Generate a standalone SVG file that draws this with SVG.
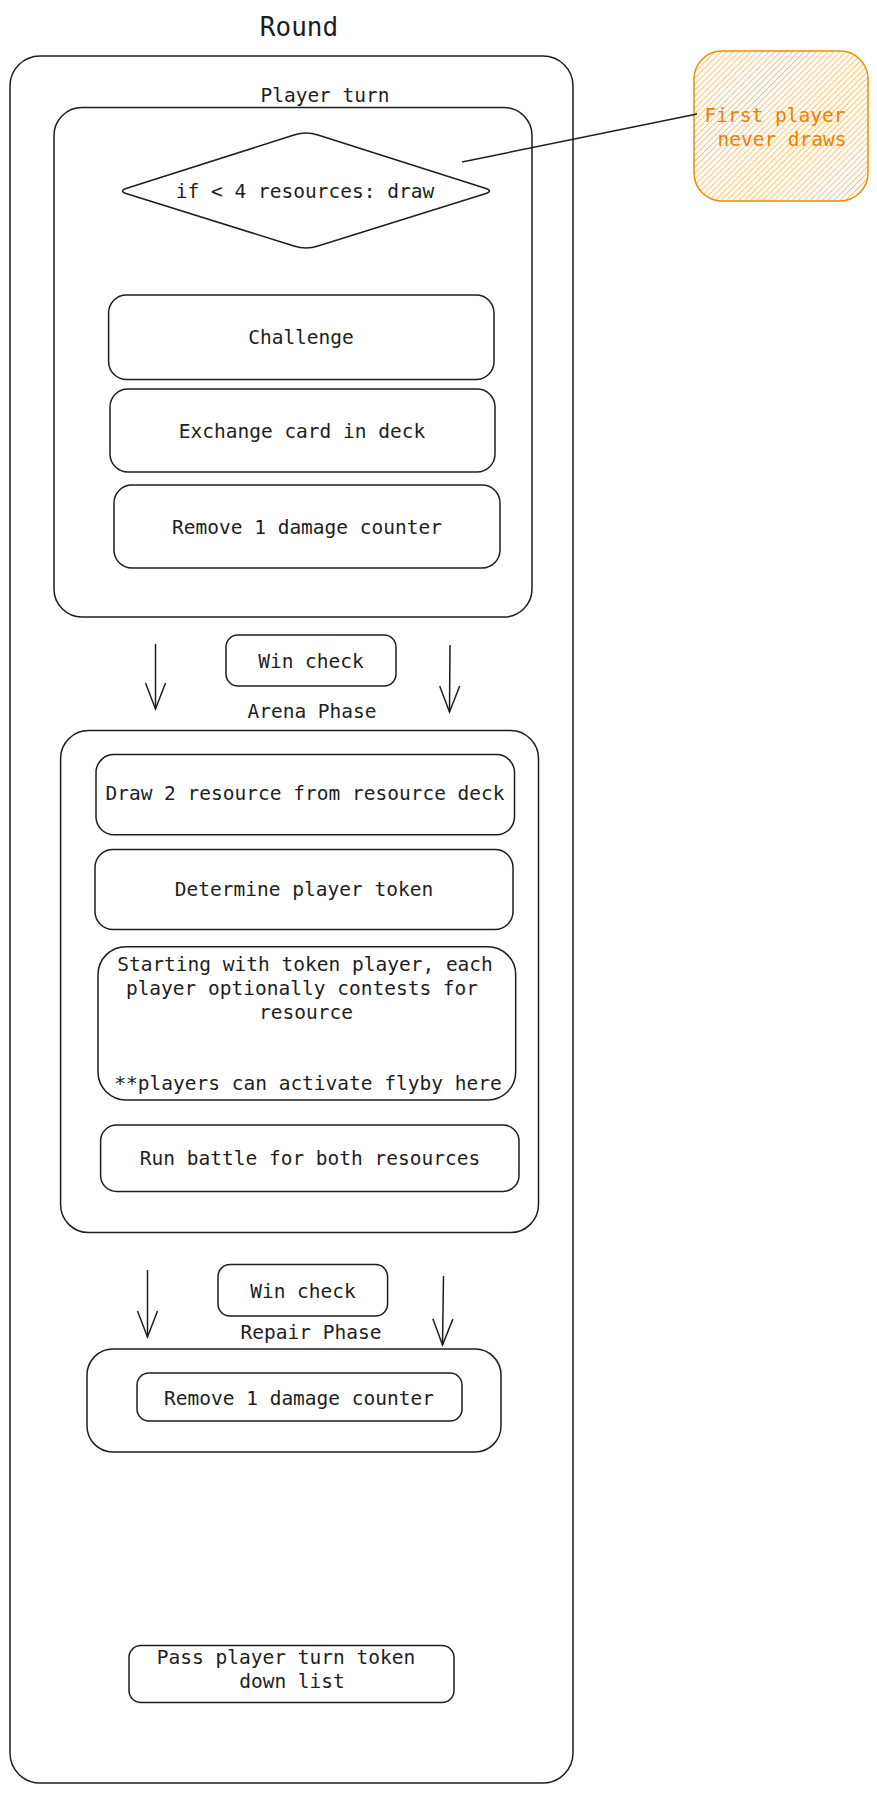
<svg xmlns="http://www.w3.org/2000/svg" width="877" height="1793" viewBox="0 0 877 1793">
<style>
.box{fill:none;stroke:#1e1e1e;stroke-width:1.5}
.t{font-family:"DejaVu Sans Mono","Liberation Mono",monospace;font-size:19.5px;fill:#1e1e1e;text-anchor:middle;dominant-baseline:central}
.edge{fill:none;stroke:#1e1e1e;stroke-width:1.5}
.note{fill:#ec8000}
</style>
<defs>
<pattern id="hatch" width="4.2" height="4.2" patternUnits="userSpaceOnUse" patternTransform="rotate(45)">
<line x1="0" y1="0" x2="0" y2="4.2" stroke="#ffc069" stroke-width="2"/>
</pattern>
<marker id="open" markerUnits="userSpaceOnUse" markerWidth="30" markerHeight="30" refX="0" refY="0" orient="auto" overflow="visible">
<path d="M-26,-10 L0,0 L-26,10" fill="none" stroke="#1e1e1e" stroke-width="1.5"/>
</marker>
</defs>
<rect width="877" height="1793" fill="#ffffff"/>

<g id="round">
<rect class="box" x="10" y="56" width="563" height="1727" rx="30"/>
<text class="t" x="299" y="27" style="font-size:26px">Round</text>
</g>

<g id="player-turn">
<rect class="box" x="54" y="107.5" width="478" height="509.5" rx="28"/>
<text class="t" x="325" y="95">Player turn</text>
</g>

<g id="draw-decision">
<path class="box" d="M126,188.5 L294,135 Q306,131 318,135 L486,188.5 Q493,191 486,193.5 L318,246 Q306,250 294,246 L126,193.5 Q119,191 126,188.5 Z"/>
<text class="t" x="305" y="191">if &lt; 4 resources: draw</text>
</g>

<g id="note">
<rect x="694" y="51" width="174" height="150" rx="28" fill="url(#hatch)" stroke="#f08c00" stroke-width="1.5"/>
<text class="t note" x="775" y="115.5">First player</text>
<text class="t note" x="782" y="139.5">never draws</text>
</g>

<g id="challenge">
<rect class="box" x="108.6" y="295" width="385.4" height="84.6" rx="18"/>
<text class="t" x="301" y="337">Challenge</text>
</g>

<g id="exchange">
<rect class="box" x="110" y="389" width="385" height="83" rx="18"/>
<text class="t" x="302" y="431">Exchange card in deck</text>
</g>

<g id="remove-damage-1">
<rect class="box" x="114" y="485" width="386" height="83" rx="18"/>
<text class="t" x="307" y="527">Remove 1 damage counter</text>
</g>

<g id="win-check-1">
<rect class="box" x="226" y="635" width="170" height="51" rx="12"/>
<text class="t" x="311" y="661">Win check</text>
</g>

<g id="arena-phase">
<rect class="box" x="60.6" y="730.6" width="477.9" height="502" rx="28"/>
<text class="t" x="312" y="711">Arena Phase</text>
</g>

<g id="draw-resources">
<rect class="box" x="96" y="754.6" width="418.5" height="80.1" rx="18"/>
<text class="t" x="305" y="793.5">Draw 2 resource from resource deck</text>
</g>

<g id="determine-token">
<rect class="box" x="95" y="849.5" width="418" height="80.1" rx="18"/>
<text class="t" x="304" y="889.6">Determine player token</text>
</g>

<g id="contest">
<rect class="box" x="98" y="946.7" width="417.7" height="153.3" rx="28"/>
<text class="t" x="305" y="964">Starting with token player, each</text>
<text class="t" x="302" y="988">player optionally contests for</text>
<text class="t" x="306" y="1012">resource</text>
<text class="t" x="308" y="1083">**players can activate flyby here</text>
</g>

<g id="run-battle">
<rect class="box" x="100.6" y="1125" width="418.4" height="66.4" rx="16"/>
<text class="t" x="310" y="1158">Run battle for both resources</text>
</g>

<g id="win-check-2">
<rect class="box" x="218" y="1264.6" width="169.6" height="51.4" rx="12"/>
<text class="t" x="303" y="1291">Win check</text>
</g>

<g id="repair-phase">
<rect class="box" x="87" y="1349" width="414" height="103" rx="26"/>
<text class="t" x="311" y="1332">Repair Phase</text>
</g>

<g id="remove-damage-2">
<rect class="box" x="137" y="1373" width="325" height="48" rx="12"/>
<text class="t" x="299" y="1398.5">Remove 1 damage counter</text>
</g>

<g id="pass-token">
<rect class="box" x="129" y="1645.4" width="325" height="57.1" rx="12"/>
<text class="t" x="286" y="1657">Pass player turn token</text>
<text class="t" x="292" y="1681">down list</text>
</g>

<g id="connectors">
<line class="edge" x1="462" y1="162" x2="697" y2="114"/>
<line class="edge" x1="155.5" y1="644" x2="155.5" y2="709" marker-end="url(#open)"/>
<line class="edge" x1="450" y1="645" x2="449.5" y2="712" marker-end="url(#open)"/>
<line class="edge" x1="147.5" y1="1270" x2="147.5" y2="1337" marker-end="url(#open)"/>
<line class="edge" x1="443.5" y1="1276" x2="442.5" y2="1345" marker-end="url(#open)"/>
</g>
</svg>
